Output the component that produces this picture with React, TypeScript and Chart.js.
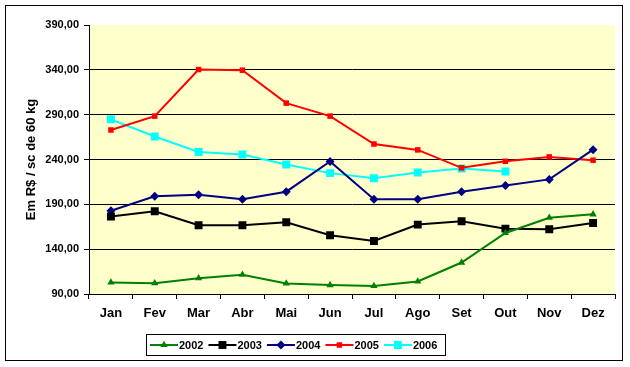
import React, { useEffect, useRef } from "react";
import { Chart, registerables } from "chart.js";

Chart.register(...registerables);

const months = ["Jan", "Fev", "Mar", "Abr", "Mai", "Jun", "Jul", "Ago", "Set", "Out", "Nov", "Dez"];
const s2002 = [102.9, 102.1, 107.6, 111.5, 101.8, 100.0, 98.9, 104.0, 125.1, 158.1, 175.1, 178.9];
const s2003 = [176.4, 182.2, 166.7, 166.7, 170.0, 155.6, 149.2, 167.4, 171.1, 162.9, 162.2, 169.2];
const s2004 = [182.9, 198.9, 200.7, 195.6, 204.1, 237.8, 195.6, 195.6, 204.1, 211.0, 217.8, 251.0];
const s2005 = [272.9, 288.4, 340.3, 339.6, 302.9, 288.4, 257.3, 250.7, 230.7, 238.0, 242.9, 239.2];
const s2006 = [284.8, 265.6, 248.4, 245.5, 234.4, 224.8, 219.0, 225.5, 230.0, 226.7, null, null];
const yTicks = [90, 140, 190, 240, 290, 340, 390];
const yTitle = "Em R$ / sc de 60 kg";

const FONT = "'Liberation Sans', Arial, sans-serif";

function drawMarker(ctx: CanvasRenderingContext2D, style: string, r: number, x: number, y: number, color: string) {
  ctx.save();
  ctx.fillStyle = color;
  ctx.strokeStyle = color;
  ctx.beginPath();
  if (style === "rect") {
    const s = Math.SQRT1_2 * r;
    ctx.rect(x - s, y - s, 2 * s, 2 * s);
  } else if (style === "rectRot") {
    ctx.moveTo(x, y - r);
    ctx.lineTo(x + r, y);
    ctx.lineTo(x, y + r);
    ctx.lineTo(x - r, y);
    ctx.closePath();
  } else {
    const a = (2 * Math.PI) / 3;
    ctx.moveTo(x, y - r);
    ctx.lineTo(x + Math.sin(a) * r, y - Math.cos(a) * r);
    ctx.lineTo(x - Math.sin(a) * r, y - Math.cos(a) * r);
    ctx.closePath();
  }
  ctx.fill();
  ctx.restore();
}

const framePlugin = {
  id: "frame",
  beforeDraw(chart: any) {
    const { ctx, chartArea } = chart;
    ctx.save();
    ctx.fillStyle = "#ffffff";
    ctx.fillRect(0, 0, chart.width, chart.height);
    ctx.fillStyle = "#FFFFCC";
    ctx.fillRect(chartArea.left, chartArea.top, chartArea.right - chartArea.left, chartArea.bottom - chartArea.top);
    ctx.strokeStyle = "#000000";
    ctx.lineWidth = 1;
    ctx.strokeRect(5.5, 5.5, 617, 355);
    ctx.restore();
  },
  afterDraw(chart: any) {
    const { ctx } = chart;
    ctx.save();
    ctx.strokeStyle = "#000000";
    ctx.lineWidth = 1;
    ctx.strokeRect(146.5, 334.5, 299, 21);
    ctx.font = "bold 11px " + FONT;
    ctx.textBaseline = "middle";
    ctx.textAlign = "left";
    const cy = 345;
    let x = 150;
    chart.data.datasets.forEach((ds: any) => {
      ctx.strokeStyle = ds.borderColor;
      ctx.lineWidth = 2;
      ctx.beginPath();
      ctx.moveTo(x, cy);
      ctx.lineTo(x + 28, cy);
      ctx.stroke();
      drawMarker(ctx, ds.pointStyle, ds.pointRadius, x + 14, cy, ds.borderColor);
      ctx.fillStyle = "#000000";
      ctx.fillText(ds.label, x + 29, cy + 0.5);
      x += 29 + ctx.measureText(ds.label).width + 5;
    });
    ctx.restore();
  },
};

export default function App() {
  const ref = useRef<HTMLCanvasElement | null>(null);
  useEffect(() => {
    if (!ref.current) return;
    const mk = (label: string, data: any[], color: string, style: string, r: number) => ({
      label,
      data,
      borderColor: color,
      backgroundColor: color,
      borderWidth: 2,
      pointStyle: style,
      pointRadius: r,
      pointHoverRadius: r,
      pointBorderWidth: 0,
      tension: 0,
      spanGaps: false,
    });
    const chart = new Chart(ref.current, {
      type: "line",
      data: {
        labels: months,
        datasets: [
          mk("2002", s2002, "#008000", "triangle", 4.2),
          mk("2003", s2003, "#000000", "rect", 5.6),
          mk("2004", s2004, "#000080", "rectRot", 4.5),
          mk("2005", s2005, "#FF0000", "rect", 3.9),
          mk("2006", s2006, "#00FFFF", "rect", 5.6),
        ],
      },
      options: {
        responsive: false,
        animation: false,
        events: [],
        layout: { padding: { left: 0, right: 15, top: 25, bottom: 43 } },
        plugins: { legend: { display: false }, tooltip: { enabled: false } },
        scales: {
          x: {
            offset: true,
            grid: {
              offset: true,
              drawOnChartArea: false,
              drawTicks: true,
              tickLength: 5,
              color: "#000000",
              tickColor: "#000000",
            },
            border: { display: true, color: "#000000", width: 1 },
            ticks: {
              color: "#000000",
              font: { family: FONT, size: 13, weight: "bold" },
              padding: 7,
              maxRotation: 0,
              autoSkip: false,
            },
            afterFit: (s: any) => {
              s.height = 30;
            },
          },
          y: {
            min: 90,
            max: 390,
            afterBuildTicks: (s: any) => {
              s.ticks = yTicks.map((v) => ({ value: v }));
            },
            grid: {
              color: (c: any) => (c.tick && c.tick.value === 390 ? "rgba(0,0,0,0)" : "#000000"),
              tickColor: "#000000",
              tickLength: 5,
              lineWidth: 1,
            },
            border: { display: true, color: "#000000", width: 1 },
            ticks: {
              color: "#000000",
              font: { family: FONT, size: 11, weight: "bold" },
              padding: 5,
              callback: (v: any) => Number(v).toFixed(2).replace(".", ","),
            },
            title: {
              display: true,
              text: yTitle,
              color: "#000000",
              font: { family: FONT, size: 13, weight: "bold" },
              padding: { top: 24, bottom: 0 },
            },
            afterFit: (s: any) => {
              s.width = 89;
            },
          },
        },
      },
      plugins: [framePlugin],
    } as any);
    return () => chart.destroy();
  }, []);
  return (
    <div style={{ position: "fixed", left: 0, top: 0, width: 630, height: 367, background: "#fff" }}>
      <canvas ref={ref} width={630} height={367} style={{ display: "block", width: 630, height: 367 }} />
    </div>
  );
}
